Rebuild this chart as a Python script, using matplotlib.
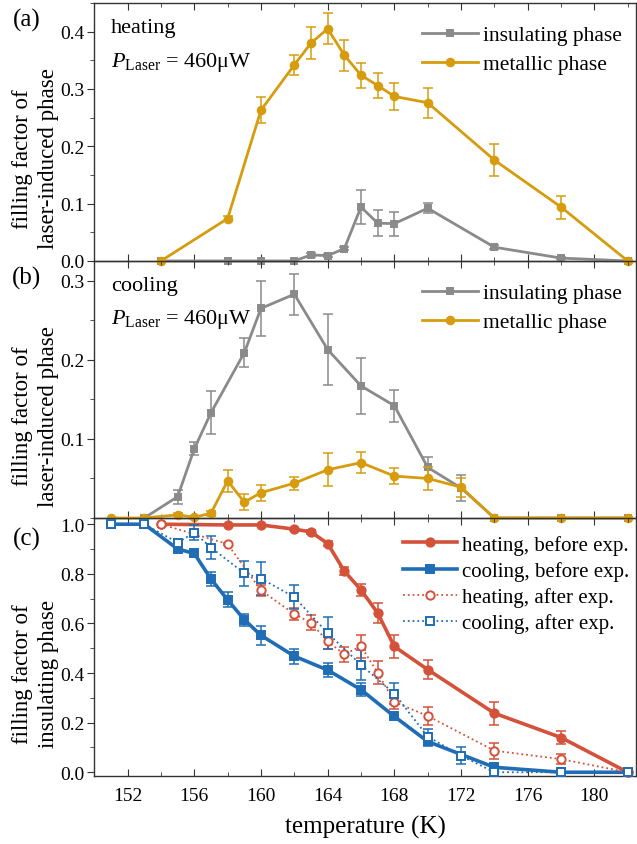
import numpy as np
import matplotlib
matplotlib.use('Agg')
import matplotlib.pyplot as plt
from matplotlib.ticker import MultipleLocator

plt.rcParams['font.family'] = ['Liberation Serif', 'DejaVu Serif']
plt.rcParams['mathtext.fontset'] = 'custom'
plt.rcParams['mathtext.rm'] = 'Liberation Serif'
plt.rcParams['mathtext.it'] = 'Liberation Serif:italic'

# panel (a): heating
T_a = [154, 158, 160, 162, 163, 164, 165, 166, 167, 168, 170, 174, 178, 182]
a_met = [0, 0.074, 0.263, 0.342, 0.380, 0.405, 0.359, 0.324, 0.306, 0.287, 0.276, 0.176, 0.094, 0]
a_met_err = [0, 0.004, 0.023, 0.018, 0.028, 0.027, 0.027, 0.022, 0.022, 0.024, 0.026, 0.028, 0.02, 0]
a_ins = [0, 0, 0, 0, 0.0105, 0.0093, 0.0215, 0.094, 0.066, 0.065, 0.092, 0.024, 0.005, 0]
a_ins_err = [0, 0, 0, 0, 0.003, 0.003, 0.003, 0.03, 0.023, 0.021, 0.009, 0.003, 0.002, 0]

# panel (b): cooling
T_b_ins = [153, 155, 156, 157, 159, 160, 162, 164, 166, 168, 170, 172, 174, 178, 182]
b_ins = [0, 0.027, 0.0875, 0.133, 0.209, 0.265, 0.283, 0.213, 0.167, 0.142, 0.064, 0.038, 0, 0, 0]
b_ins_err = [0, 0.009, 0.008, 0.027, 0.018, 0.035, 0.026, 0.045, 0.035, 0.02, 0.013, 0.016, 0, 0, 0]
T_b_met = [151, 153, 155, 156, 157, 158, 159, 160, 162, 164, 166, 168, 170, 172, 174, 178, 182]
b_met = [0, 0, 0.004, 0.001, 0.006, 0.047, 0.020, 0.032, 0.044, 0.061, 0.070, 0.053, 0.050, 0.039, 0, 0, 0]
b_met_err = [0, 0, 0.002, 0.002, 0.003, 0.014, 0.01, 0.01, 0.008, 0.021, 0.013, 0.01, 0.015, 0.012, 0, 0, 0]

# panel (c): insulating phase before / after
T_hb = [154, 158, 160, 162, 163, 164, 165, 166, 167, 168, 170, 174, 178, 182]
hb = [1.0, 0.997, 0.997, 0.98, 0.969, 0.922, 0.811, 0.735, 0.642, 0.507, 0.414, 0.238, 0.140, 0]
hb_err = [0, 0, 0, 0.005, 0.008, 0.01, 0.015, 0.025, 0.04, 0.047, 0.04, 0.047, 0.027, 0]
T_cb = [151, 153, 155, 156, 157, 158, 159, 160, 162, 164, 166, 168, 170, 174, 178, 182]
cb = [1.0, 1.0, 0.90, 0.882, 0.779, 0.695, 0.615, 0.552, 0.468, 0.412, 0.333, 0.225, 0.124, 0.02, 0, 0]
cb_err = [0, 0, 0.01, 0.01, 0.028, 0.03, 0.025, 0.037, 0.03, 0.03, 0.025, 0.01, 0.02, 0.005, 0, 0]
T_ha = [154, 158, 160, 162, 163, 164, 165, 166, 167, 168, 170, 174, 178, 182]
ha = [1.0, 0.92, 0.733, 0.638, 0.602, 0.528, 0.475, 0.508, 0.401, 0.283, 0.227, 0.087, 0.053, 0]
ha_err = [0, 0.005, 0.023, 0.023, 0.03, 0.03, 0.03, 0.047, 0.047, 0.03, 0.037, 0.032, 0.02, 0]
T_ca = [151, 153, 155, 156, 157, 159, 160, 162, 164, 166, 168, 170, 172, 174, 178, 182]
ca = [1.0, 1.0, 0.926, 0.966, 0.906, 0.802, 0.781, 0.706, 0.561, 0.433, 0.317, 0.144, 0.067, 0, 0, 0]
ca_err = [0, 0, 0.01, 0.03, 0.045, 0.05, 0.067, 0.047, 0.063, 0.06, 0.043, 0.03, 0.035, 0, 0, 0]

GREY = '#8a8a8a'
ORANGE = '#d69c0e'
RED = '#d4513a'
BLUE = '#1f6db5'


def series(ax, x, y, err, color, marker, ms, lw, ls='-', face=None, label=None, z=3):
    x = np.array(x); y = np.array(y); err = np.array(err)
    m = err > 0
    ax.errorbar(x[m], y[m], yerr=err[m], fmt='none', ecolor=color, elinewidth=1.1,
                capsize=3.5, capthick=1.1, zorder=z, clip_on=False)
    ax.plot(x, y, ls=ls, color=color, lw=lw, marker=marker, ms=ms,
            mfc=face if face else color, mec=color, mew=1.4, label=label,
            zorder=z + 0.5, clip_on=False)


fig = plt.figure(figsize=(6.37, 8.45), dpi=100)
L, R = 0.148, 0.9985
ax_a = fig.add_axes([L, 0.690, R - L, 0.3053])
ax_b = fig.add_axes([L, 0.3858, R - L, 0.3042])
ax_c = fig.add_axes([L, 0.0805, R - L, 0.3053])

series(ax_a, T_a, a_ins, a_ins_err, GREY, 's', 4.5, 2.0, label='insulating phase')
series(ax_a, T_a, a_met, a_met_err, ORANGE, 'o', 5.5, 2.0, label='metallic phase', z=4)
series(ax_b, T_b_ins, b_ins, b_ins_err, GREY, 's', 4.5, 2.0, label='insulating phase')
series(ax_b, T_b_met, b_met, b_met_err, ORANGE, 'o', 5.5, 2.0, label='metallic phase', z=4)

series(ax_c, T_hb, hb, hb_err, RED, 'o', 6, 2.6, label='heating, before exp.')
series(ax_c, T_cb, cb, cb_err, BLUE, 's', 5.5, 2.6, label='cooling, before exp.')
series(ax_c, T_ha, ha, ha_err, RED, 'o', 6, 1.3, ls=':', face='white', label='heating, after exp.', z=5)
series(ax_c, T_ca, ca, ca_err, BLUE, 's', 5.5, 1.3, ls=':', face='white', label='cooling, after exp.', z=5)

ax_a.set_ylim(0, 0.45)
ax_b.set_ylim(0, 0.325)
ax_c.set_ylim(-0.015, 1.025)
ax_a.yaxis.set_major_locator(MultipleLocator(0.1))
ax_a.yaxis.set_minor_locator(MultipleLocator(0.05))
ax_b.yaxis.set_major_locator(MultipleLocator(0.1))
ax_b.yaxis.set_minor_locator(MultipleLocator(0.05))
ax_c.yaxis.set_major_locator(MultipleLocator(0.2))
ax_c.yaxis.set_minor_locator(MultipleLocator(0.1))

for ax in (ax_a, ax_b, ax_c):
    ax.set_xlim(150, 182.5)
    ax.xaxis.set_major_locator(MultipleLocator(4))
    ax.xaxis.set_minor_locator(MultipleLocator(2))
    ax.patch.set_alpha(0)
    for s in ax.spines.values():
        s.set_linewidth(1.0)
        s.set_color('#333333')
    ax.tick_params(axis='x', which='both', direction='in', top=True, bottom=True,
                   labelbottom=False, color='#333333')
    ax.tick_params(axis='x', which='major', length=5)
    ax.tick_params(axis='x', which='minor', length=3)
    ax.tick_params(axis='y', which='both', direction='out', right=True, color='#333333',
                   labelsize=14, pad=2)
    ax.tick_params(axis='y', which='major', length=5)
    ax.tick_params(axis='y', which='minor', length=3)

ax_a.yaxis.set_major_formatter(plt.FormatStrFormatter('%.1f'))
ax_b.yaxis.set_major_formatter(plt.FormatStrFormatter('%.1f'))
ax_c.yaxis.set_major_formatter(plt.FormatStrFormatter('%.1f'))
ax_b.set_yticks([0.1, 0.2, 0.3])
ax_c.tick_params(axis='x', labelbottom=True, labelsize=14, pad=8)
ax_c.set_xlabel('temperature (K)', fontsize=18, labelpad=8)

ax_a.set_ylabel('filling factor of\nlaser-induced phase', fontsize=16.5, linespacing=1.3)
ax_b.set_ylabel('filling factor of\nlaser-induced phase', fontsize=16.5, linespacing=1.3)
ax_c.set_ylabel('filling factor of\ninsulating phase', fontsize=16.5, linespacing=1.3)
for ax in (ax_a, ax_b, ax_c):
    ax.yaxis.set_label_coords(-0.066, 0.40)

for ax, lab in ((ax_a, '(a)'), (ax_b, '(b)'), (ax_c, '(c)')):
    ax.text(-0.125, 0.935 if lab != '(c)' else 0.92, lab, transform=ax.transAxes, fontsize=18,
            ha='center', va='center')

for ax, word in ((ax_a, 'heating'), (ax_b, 'cooling')):
    ax.text(0.031, 0.905, word, transform=ax.transAxes, fontsize=16, va='center')
    ax.text(0.031, 0.775, r'$P_{\mathrm{Laser}}$ = 460μW', transform=ax.transAxes,
            fontsize=16, va='center')

leg_kw = dict(frameon=False, handlelength=2.6, handletextpad=0.25,
              borderaxespad=0, borderpad=0, loc='upper left')
ax_a.legend(bbox_to_anchor=(0.605, 0.913), labelspacing=0.4, fontsize=15.5, **leg_kw)
ax_b.legend(bbox_to_anchor=(0.605, 0.913), labelspacing=0.4, fontsize=15.5, **leg_kw)
ax_c.legend(bbox_to_anchor=(0.57, 0.935), labelspacing=0.3, fontsize=15, **leg_kw)

fig.savefig('out.png', dpi=100)
